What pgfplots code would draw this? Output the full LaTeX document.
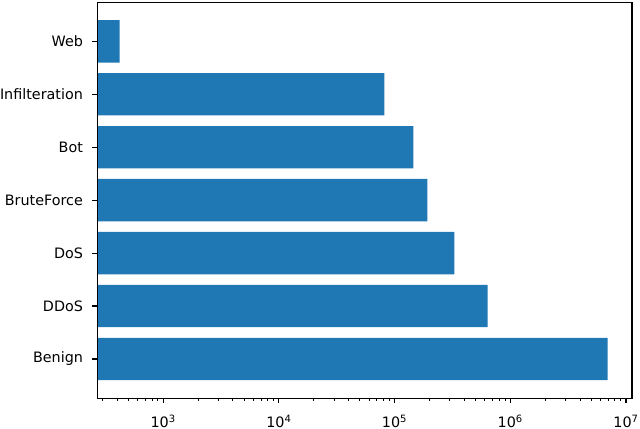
\documentclass[border=0pt]{standalone}
\usepackage{fontspec}
\setmainfont{DejaVu Sans}
\usepackage{pgfplots}
\pgfplotsset{compat=1.18}
\definecolor{mplBlue}{HTML}{1F77B4}

\begin{document}
\begin{tikzpicture}
\begin{axis}[
    scale only axis, width=401.25pt, height=297pt,
    xmode=log, log origin=infty,
    xmin=269, xmax=1.127e7,
    ymin=-0.74, ymax=6.74,
    xbar, bar width=0.8,
    ytick={0,...,6},
    yticklabels={Benign,DDoS,DoS,BruteForce,Bot,Infilteration,Web},
    xtick={1e3,1e4,1e5,1e6,1e7},
    xticklabels={10\textsuperscript{3},10\textsuperscript{4},10\textsuperscript{5},10\textsuperscript{6},10\textsuperscript{7}},
    minor xtick={300,400,500,600,700,800,900,
                 2000,3000,4000,5000,6000,7000,8000,9000,
                 2e4,3e4,4e4,5e4,6e4,7e4,8e4,9e4,
                 2e5,3e5,4e5,5e5,6e5,7e5,8e5,9e5,
                 2e6,3e6,4e6,5e6,6e6,7e6,8e6,9e6},
    tick align=outside, tick pos=left,
    major tick length=3.75pt, minor tick length=2.15pt,
    axis line style={black, line width=0.9pt},
    every tick/.style={black, line width=0.86pt},
    minor tick style={black, line width=0.65pt},
    ticklabel style={font=\fontsize{10.76pt}{13pt}\selectfont},
    yticklabel style={anchor=east, inner sep=0pt, xshift=-6.75pt},
    xticklabel style={anchor=base, inner sep=0pt, yshift=-18.6pt},
    axis on top,
]
\addplot[fill=mplBlue, draw=none] coordinates {
    (6.93e6,0) (6.37e5,1) (3.28e5,2) (1.92e5,3)
    (1.45e5,4) (8.15e4,5) (420,6)
};
\end{axis}
\path ([xshift=-72.9pt,yshift=-22.4pt]current axis.south west)
    rectangle ([xshift=5.95pt,yshift=1.65pt]current axis.north east);
\end{tikzpicture}
\end{document}
